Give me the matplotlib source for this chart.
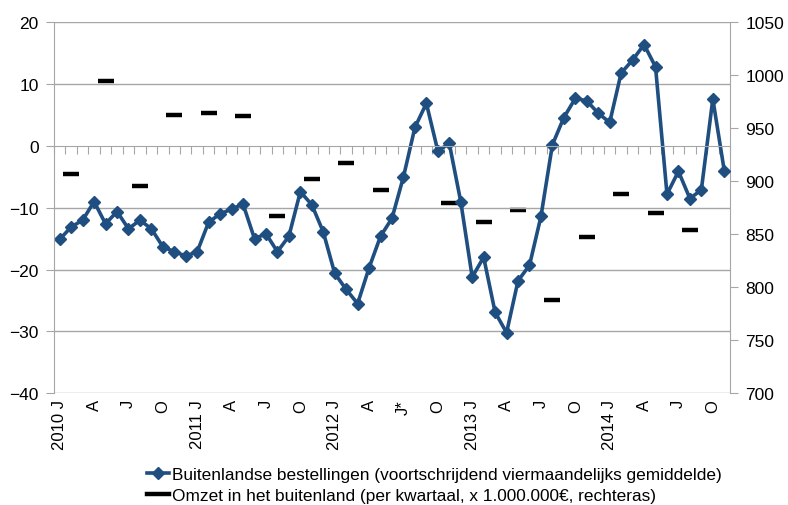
import numpy as np
import matplotlib
matplotlib.use("Agg")
from matplotlib import pyplot as plt
from matplotlib import transforms
from matplotlib.lines import Line2D

plt.rcParams['font.family'] = ['Liberation Sans', 'DejaVu Sans']

# monthly orders, Jan 2010 - Nov 2014 (left axis)
orders = [-15.1, -13.1, -12.0, -9.0, -12.6, -10.6, -13.4, -12.0, -13.4, -16.3, -17.1, -17.8,
          -17.1, -12.3, -11.0, -10.2, -9.4, -15.0, -14.2, -17.1, -14.6, -7.4, -9.5, -13.9,
          -20.6, -23.2, -25.5, -19.7, -14.6, -11.7, -5.0, 3.0, 6.9, -0.8, 0.4, -9.0,
          -21.2, -18.0, -26.9, -30.2, -21.8, -19.3, -11.4, 0.2, 4.6, 7.7, 7.3, 5.3,
          3.8, 11.8, 13.9, 16.4, 12.8, -7.8, -4.1, -8.5, -7.1, 7.6, -4.0]

# quarterly turnover abroad, placed on the middle month of each quarter (right axis)
# Q3 2012 is missing in the source (J*)
turnover_idx = [1, 4, 7, 10, 13, 16, 19, 22, 25, 28, 31, 34, 37, 40, 43, 46, 49, 52, 55]
turnover = [907, 995, 896, 963, 964, 962, 867, 902, 917, 892, np.nan, 880, 862, 873, 788, 847, 888, 870, 854]

month_labels = ["2010 J", "A", "J", "O", "2011 J", "A", "J", "O", "2012 J", "A", "J*", "O",
                "2013 J", "A", "J", "O", "2014 J", "A", "J", "O"]

blue = '#1F4E80'
grey = '#A6A6A6'

fig = plt.figure(figsize=(7.88, 5.06), dpi=100)
ax = fig.add_axes([54 / 788, 1 - 394.3 / 506, (730 - 54) / 788, (394.3 - 23.3) / 506])
ax2 = ax.twinx()

x = np.arange(len(orders))

ax.set_zorder(2)
ax.patch.set_visible(False)
ax2.set_zorder(1)

ax2.plot(turnover_idx, turnover, linestyle='none', marker='_', markersize=12, mew=3.2,
         color='black')
line, = ax.plot(x, orders, color=blue, lw=2.6, marker='D', markersize=6.5,
                label='Buitenlandse bestellingen (voortschrijdend viermaandelijks gemiddelde)')
dash = Line2D([], [], color='black', lw=3.2,
              label='Omzet in het buitenland (per kwartaal, x 1.000.000€, rechteras)')

ax.set_xlim(-0.5, len(orders) - 0.5)
ax.set_ylim(-40, 20)
ax2.set_ylim(700, 1050)
ax.set_yticks(range(-40, 21, 10))
ax2.set_yticks(range(700, 1051, 50))

for y in range(-40, 21, 10):
    if y != 0:
        ax.axhline(y, color=grey, lw=1.0, zorder=0)

ax.spines['bottom'].set_position(('data', 0))
ax.spines['bottom'].set_color(grey)
ax.spines['left'].set_color(grey)
ax.spines['top'].set_visible(False)
ax.spines['right'].set_visible(False)
for s in ['top', 'bottom', 'left']:
    ax2.spines[s].set_visible(False)
ax2.spines['right'].set_color(grey)

ax.set_xticks(np.arange(-0.5, len(orders), 1.0))
ax.tick_params(axis='x', length=6, color=grey, labelbottom=False, direction='out')
ax.tick_params(axis='y', length=6, color=grey, labelsize=12.5, pad=5)
ax2.tick_params(axis='y', length=6, color=grey, labelsize=12.5, pad=5)

trans = transforms.blended_transform_factory(ax.transData, ax.transAxes)
for i, lab in enumerate(month_labels):
    ax.text(i * 3, -0.016, lab, transform=trans, rotation=90, ha='center', va='top',
            fontsize=12)

fig.legend(handles=[line, dash], loc='upper left',
           bbox_to_anchor=(138 / 788, 1 - 459 / 506), frameon=False, fontsize=12.4,
           handlelength=1.3, handletextpad=0.15, labelspacing=0.35, borderpad=0)

fig.savefig('out.png', dpi=100)
